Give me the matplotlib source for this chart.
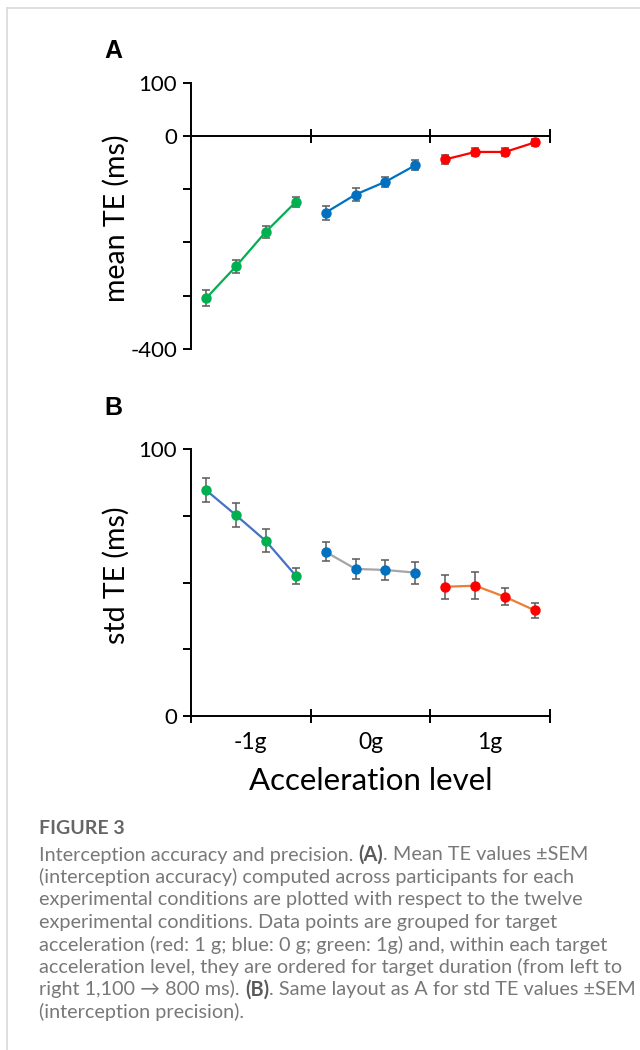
import matplotlib
matplotlib.use("Agg")
import matplotlib.pyplot as plt
from matplotlib.lines import Line2D
import numpy as np

# data
groups = ["-1g", "0g", "1g"]
pos_in_group = [0.125, 0.375, 0.625, 0.875]

mean_te = {
    "-1g": [-305, -245, -180, -124],
    "0g": [-144, -110, -86, -55],
    "1g": [-44, -30, -30, -12],
}
mean_sem = {
    "-1g": [15, 12.5, 11, 9],
    "0g": [13, 12.5, 9.5, 9],
    "1g": [9, 8, 7.5, 6],
}
std_te = {
    "-1g": [84.7, 75.3, 65.6, 52.6],
    "0g": [61.5, 55.1, 54.7, 53.7],
    "1g": [48.4, 48.8, 44.6, 39.5],
}
std_sem = {
    "-1g": [4.4, 4.4, 4.3, 3.0],
    "0g": [3.6, 3.7, 3.6, 4.1],
    "1g": [4.6, 5.1, 3.2, 2.8],
}

dot_colors = {"-1g": "#00B050", "0g": "#0070C0", "1g": "#FF0000"}
lineA_colors = {"-1g": "#00B050", "0g": "#0070C0", "1g": "#FF0000"}
lineB_colors = {"-1g": "#4472C4", "0g": "#A5A5A5", "1g": "#ED7D31"}

plt.rcParams['font.family'] = ['Lato', 'DejaVu Sans']

fig = plt.figure(figsize=(6.4, 10.5), dpi=100)

# light frame lines (top and left)
fig.add_artist(Line2D([6.5 / 640, 1], [1 - 8 / 1050, 1 - 8 / 1050], color="#d9d9d9", lw=1.2))
fig.add_artist(Line2D([6.5 / 640, 6.5 / 640], [0, 1 - 8 / 1050], color="#d9d9d9", lw=1.2))

axA = fig.add_axes([191 / 640, 1 - 349 / 1050, 359 / 640, 266.3 / 1050])
axB = fig.add_axes([191 / 640, 1 - 715.7 / 1050, 359 / 640, 266.4 / 1050])


def draw(ax, vals, errs, line_colors):
    for gi, g in enumerate(groups):
        x = gi + np.array(pos_in_group)
        ax.plot(x, vals[g], color=line_colors[g], lw=1.6, zorder=2)
        ax.errorbar(x, vals[g], yerr=errs[g], fmt="none", ecolor="#595959",
                    elinewidth=1.1, capsize=3.2, capthick=1.1, zorder=3)
        ax.plot(x, vals[g], "o", color=dot_colors[g], ms=6.5, mec=dot_colors[g], zorder=4)


def style(ax):
    ax.set_xlim(0, 3)
    ax.spines["top"].set_visible(False)
    ax.spines["right"].set_visible(False)
    ax.spines["left"].set_linewidth(1.4)
    ax.spines["bottom"].set_linewidth(1.4)
    ax.set_xticks([0, 1, 2, 3])
    ax.set_xticklabels([])
    ax.tick_params(axis="x", which="major", direction="inout", length=10, width=1.4)
    ax.tick_params(axis="y", direction="out", length=6, width=1.4, labelsize=16, pad=4)
    ax.patch.set_alpha(0)


draw(axA, mean_te, mean_sem, lineA_colors)
style(axA)
axA.set_ylim(-400, 100)
axA.spines["bottom"].set_position(("data", 0))
axA.set_yticks([100, 0, -100, -200, -300, -400])
axA.set_yticklabels(["100", "0", "", "", "", "-400"])
axA.set_ylabel("mean TE (ms)", fontsize=20.5)
axA.yaxis.set_label_coords(-0.17, 0.49)

draw(axB, std_te, std_sem, lineB_colors)
style(axB)
axB.set_ylim(0, 100)
axB.set_yticks([0, 25, 50, 75, 100])
axB.set_yticklabels(["0", "", "", "", "100"])
axB.set_xticks([0.5, 1.5, 2.5], minor=True)
axB.set_xticklabels(groups, minor=True, fontsize=16.5)
axB.tick_params(axis="x", which="minor", length=0, pad=12)
axB.set_ylabel("std TE (ms)", fontsize=20.5)
axB.yaxis.set_label_coords(-0.17, 0.528)
axB.set_xlabel("Acceleration level", fontsize=22.5, labelpad=10)

# panel letters
fig.text(104 / 640, 1 - 51 / 1050, "A", fontsize=18, fontweight="bold",
         family=["Liberation Sans", "DejaVu Sans"], va="center")
fig.text(104 / 640, 1 - 408 / 1050, "B", fontsize=18, fontweight="bold",
         family=["Liberation Sans", "DejaVu Sans"], va="center")

# caption
cap_color = "#787878"
fig.text(39 / 640, 1 - 829 / 1050, "FIGURE 3", fontsize=14, color="#666666",
         fontweight="bold", va="center")

lines = [
    [("Interception accuracy and precision.", "normal"), ("(A)", "bold"), (". Mean TE values \u00b1SEM", "normal")],
    [("(interception accuracy) computed across participants for each", "normal")],
    [("experimental conditions are plotted with respect to the twelve", "normal")],
    [("experimental conditions. Data points are grouped for target", "normal")],
    [("acceleration (red: 1 g; blue: 0 g; green: 1g) and, within each target", "normal")],
    [("acceleration level, they are ordered for target duration (from left to", "normal")],
    [("right 1,100 \u2192 800 ms).", "normal"), ("(B)", "bold"), (". Same layout as A for std TE values \u00b1SEM", "normal")],
    [("(interception precision).", "normal")],
]

renderer = fig.canvas.get_renderer()
cap_size = 14.3


def width_of(s, weight):
    t = fig.text(0, 0, s, fontsize=cap_size, fontweight=weight)
    w = t.get_window_extent(renderer).width
    t.remove()
    return w


space_w = width_of("x x", "normal") - width_of("xx", "normal")

y0 = 855
for i, runs in enumerate(lines):
    x_px = 39
    y = 1 - (y0 + i * 22.4) / 1050
    for j, (s, weight) in enumerate(runs):
        if j > 0 and not s.startswith("."):
            x_px += space_w
        col = "#5a5a5a" if weight == "bold" else cap_color
        t = fig.text(x_px / 640, y, s, fontsize=cap_size, fontweight=weight,
                     color=col, va="center")
        x_px += t.get_window_extent(renderer).width

fig.savefig("out.png", dpi=100)
